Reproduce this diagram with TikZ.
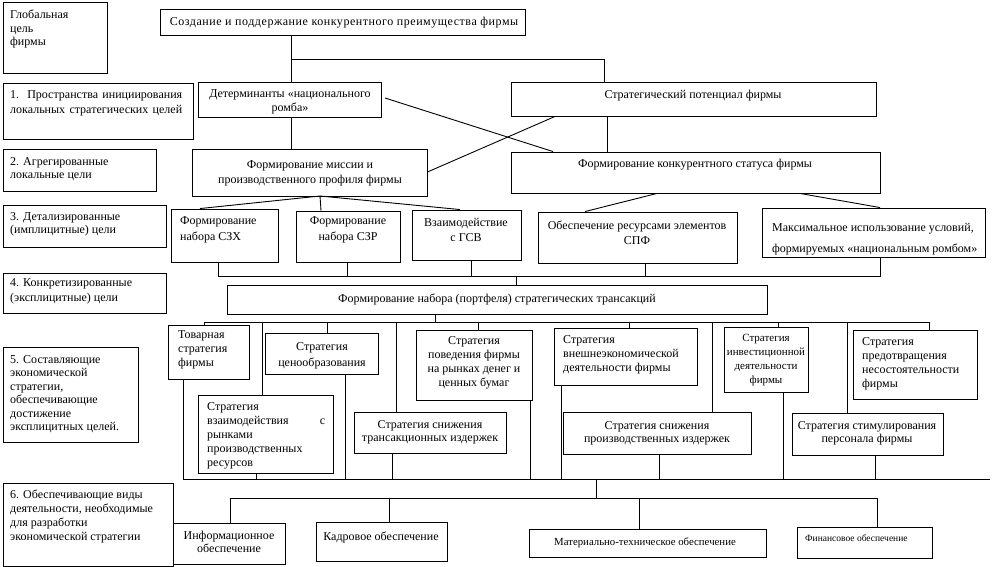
\documentclass[tikz,border=0pt]{standalone}
\usepackage{fontspec}
\setmainfont{Liberation Serif}
\usetikzlibrary{fit}
\newcommand\fs{\fontsize{12}{14}\selectfont}
\newcommand\bx[3]{\node[box, fit={(#2) (#3)}] (#1) {};}
\newcommand\tl[1]{\begin{tabular}[t]{@{}l@{}}#1\end{tabular}}
\newcommand\tcn[1]{\begin{tabular}[t]{@{}c@{}}#1\end{tabular}}
\begin{document}
\begin{tikzpicture}[x=1pt,y=-1pt,
  box/.style={draw, line width=0.9pt, inner sep=0pt},
  t/.style={inner sep=0pt, font=\fs, anchor=base west},
  tc/.style={inner sep=0pt, font=\fs, anchor=base},
  ln/.style={line width=0.9pt}]
\useasboundingbox[fill=white] (0,0) rectangle (995,567);
% boxes
\bx{G}{3,2}{107,73}
\bx{T}{160,9}{525,35}
\bx{L1}{3,83}{193,139}
\bx{D}{198,82}{381,117}
\bx{SP}{511,82}{876,116}
\bx{L2}{3,149}{156,191}
\bx{M}{192,149}{427,196}
\bx{CS}{511,152}{880,193}
\bx{L3}{3,205}{166,247}
\bx{B1}{171,209}{278,262}
\bx{B2}{296,211}{400,262}
\bx{B3}{412,210}{521,260}
\bx{B4}{538,212}{737,263}
\bx{B5}{762,208}{985,257}
\bx{L4}{3,273}{166,313}
\bx{P}{227,285}{767,314}
\bx{S1}{168,325}{249,379}
\bx{S2}{265,333}{378,374}
\bx{S3}{198,395}{333,473}
\bx{S4}{416,330}{532,400}
\bx{S5}{354,412}{506,453}
\bx{S6}{554,328}{697,385}
\bx{S7}{563,412}{751,454}
\bx{S8}{724,327}{808,392}
\bx{S9}{792,413}{943,455}
\bx{S10}{853,330}{977,399}
\bx{L5}{3,347}{138,442}
\bx{L6}{3,483}{173,566}
\bx{E1}{173,523}{285,564}
\bx{E2}{316,522}{447,561}
\bx{E3}{529,529}{766,557}
\bx{E4}{797,527}{932,558}
% connectors top
\coordinate (j1) at (291,59);
\coordinate (c1) at (385,98);
\draw[ln] (T.south -| 291,0) -- (D.north -| 291,0);
\draw[ln] (j1) -| (SP.north -| 604,0);
\draw[ln] (D.south -| 291,0) -- (M.north -| 291,0);
\draw[ln] (SP.south -| 607,0) -- (CS.north -| 607,0);
\draw[ln] (c1) -- (CS.north -| 553,0);
\draw[ln] (M.east |- 0,172) -- (SP.south -| 555,0);
\coordinate (mf) at (320,196);
\draw[ln] (mf) -- (B1.north -| 200,0);
\draw[ln] (mf) -- (B2.north -| 321,0);
\draw[ln] (mf) -- (B3.north -| 460,0);
\draw[ln] (CS.south -| 657,0) -- (B4.north -| 585,0);
\draw[ln] (CS.south -| 800,0) -- (B5.north -| 880,0);
% level 3 bus
\coordinate (b3a) at (218,276);
\coordinate (b3b) at (880,276);
\draw[ln] (B1.south -| 218,0) -- (b3a) -- (b3b) -- (B5.south -| 880,0);
\draw[ln] (B2.south -| 347,0) -- (b3a -| 347,0);
\draw[ln] (B3.south -| 471,0) -- (b3a -| 471,0);
\draw[ln] (B4.south -| 645,0) -- (b3a -| 645,0);
\draw[ln] (b3a -| 516,0) -- (P.north -| 516,0);
% portfolio bus
\coordinate (b4a) at (204,322);
\coordinate (b4b) at (929,322);
\draw[ln] (P.south -| 435,0) -- (b4a -| 435,0);
\draw[ln] (S1.north -| 204,0) -- (b4a) -- (b4b) -- (S10.north -| 929,0);
\draw[ln] (b4a -| 262,0) -- (S3.north -| 262,0);
\draw[ln] (b4a -| 327,0) -- (S2.north -| 327,0);
\draw[ln] (b4a -| 396,0) -- (S5.north -| 396,0);
\draw[ln] (b4a -| 478,0) -- (S4.north -| 478,0);
\draw[ln] (b4a -| 629,0) -- (S6.north -| 629,0);
\draw[ln] (b4a -| 712,0) -- (S7.north -| 712,0);
\draw[ln] (b4a -| 778,0) -- (S8.north -| 778,0);
\draw[ln] (b4a -| 847,0) -- (S9.north -| 847,0);
% bottom bus
\coordinate (b5a) at (183,479);
\coordinate (b5b) at (990,479);
\draw[ln] (S1.south -| 183,0) -- (b5a) -- (b5b);
\draw[ln] (S3.south -| 256,0) -- (b5a -| 256,0);
\draw[ln] (S2.south -| 345,0) -- (b5a -| 345,0);
\draw[ln] (S5.south -| 392,0) -- (b5a -| 392,0);
\draw[ln] (S4.south -| 530,0) -- (b5a -| 530,0);
\draw[ln] (S6.south -| 561,0) -- (b5a -| 561,0);
\draw[ln] (S7.south -| 659,0) -- (b5a -| 659,0);
\draw[ln] (S8.south -| 783,0) -- (b5a -| 783,0);
\draw[ln] (S9.south -| 875,0) -- (b5a -| 875,0);
\coordinate (b6a) at (230,498);
\coordinate (b6b) at (877,498);
\draw[ln] (b5a -| 596,0) -- (b6a -| 596,0);
\draw[ln] (E1.north -| 230,0) -- (b6a) -- (b6b) -- (E4.north -| 877,0);
\draw[ln] (b6a -| 389,0) -- (E2.north -| 389,0);
\draw[ln] (b6a -| 639,0) -- (E3.north -| 639,0);
% texts
\node[t] (tG) at (10,19) {\tl{Глобальная\\[-0.5pt]цель\\[-0.5pt]фирмы}};
\node[tc, font=\fs\addfontfeature{LetterSpace=4.5}] (tT) at (344,26) {Создание и поддержание конкурентного преимущества фирмы};
\node[t] (tL1) at (10,98.5) {\tl{\makebox[172pt][s]{1. Пространства инициирования}\\[1pt]\makebox[172pt][s]{локальных стратегических целей}}};
\node[tc] (tD) at (290,97.5) {\tcn{Детерминанты «национального\\ромба»}};
\node[tc] (tSP) at (693,98.5) {Стратегический потенциал фирмы};
\node[t] (tL2) at (10,165) {\tl{2. Агрегированные\\[-1pt]локальные цели}};
\node[tc] (tM) at (310,168.5) {\tcn{Формирование миссии и\\[1pt]производственного профиля фирмы}};
\node[tc] (tCS) at (695,167) {Формирование конкурентного статуса фирмы};
\node[t] (tL3) at (10,220.5) {\tl{3. Детализированные\\[-1pt](имплицитные) цели}};
\node[t] (tB1) at (180,224.5) {\tl{Формирование\\[1.5pt]набора СЗХ}};
\node[tc] (tB2) at (348,224.5) {\tcn{Формирование\\[1.5pt]набора СЗР}};
\node[tc] (tB3) at (466,226) {\tcn{Взаимодействие\\[1.5pt]с ГСВ}};
\node[tc] (tB4) at (637,229) {\tcn{Обеспечение ресурсами элементов\\[1pt]СПФ}};
\node[t] (tB5) at (772,231) {\tl{Максимальное использование условий,\\[7pt]формируемых «национальным ромбом»}};
\node[t] (tL4) at (10,286.5) {\tl{4. Конкретизированные\\[0.5pt](эксплицитные) цели}};
\node[tc] (tP) at (497,302) {Формирование набора (портфеля) стратегических трансакций};
\node[t] (tS1) at (178,338) {\tl{Товарная\\стратегия\\фирмы}};
\node[tc] (tS2) at (322,350) {\tcn{Стратегия\\[2pt]ценообразования}};
\node[t] (tS3) at (207,410) {\tl{Стратегия\\\makebox[118pt][s]{взаимодействия с}\\рынками\\производственных\\ресурсов}};
\node[tc] (tS4) at (474,344.5) {\tcn{Стратегия\\поведения фирмы\\на рынках денег и\\ценных бумаг}};
\node[tc] (tS5) at (430,428) {\tcn{Стратегия снижения\\[-1pt]трансакционных издержек}};
\node[t] (tS6) at (563,343.5) {\tl{Стратегия\\внешнеэкономической\\деятельности фирмы}};
\node[tc] (tS7) at (657,429.5) {\tcn{Стратегия снижения\\[-1pt]производственных издержек}};
\node[tc, font=\fontsize{11}{14}\selectfont] (tS8) at (766,341.5) {\tcn{Стратегия\\инвестиционной\\деятельности\\фирмы}};
\node[tc] (tS9) at (867,429.5) {\tcn{Стратегия стимулирования\\[-1pt]персонала фирмы}};
\node[t] (tS10) at (862,345.5) {\tl{Стратегия\\предотвращения\\несостоятельности\\фирмы}};
\node[t] (tL5) at (10,363.5) {\tl{5. Составляющие\\[-0.6pt]экономической\\[-0.6pt]стратегии,\\[-0.6pt]обеспечивающие\\[-0.6pt]достижение\\[-0.6pt]эксплицитных целей.}};
\node[t] (tL6) at (10,498.5) {\tl{6. Обеспечивающие виды\\деятельности, необходимые\\для разработки\\экономической стратегии}};
\node[tc] (tE1) at (229,539.5) {\tcn{Информационное\\[-1pt]обеспечение}};
\node[tc] (tE2) at (381,540.5) {Кадровое обеспечение};
\node[tc, font=\fontsize{10.8}{12}\selectfont] (tE3) at (645,545) {Материально-техническое обеспечение};
\node[t, font=\fontsize{9.5}{11}\selectfont] (tE4) at (805,541) {Финансовое обеспечение};
\end{tikzpicture}
\end{document}
